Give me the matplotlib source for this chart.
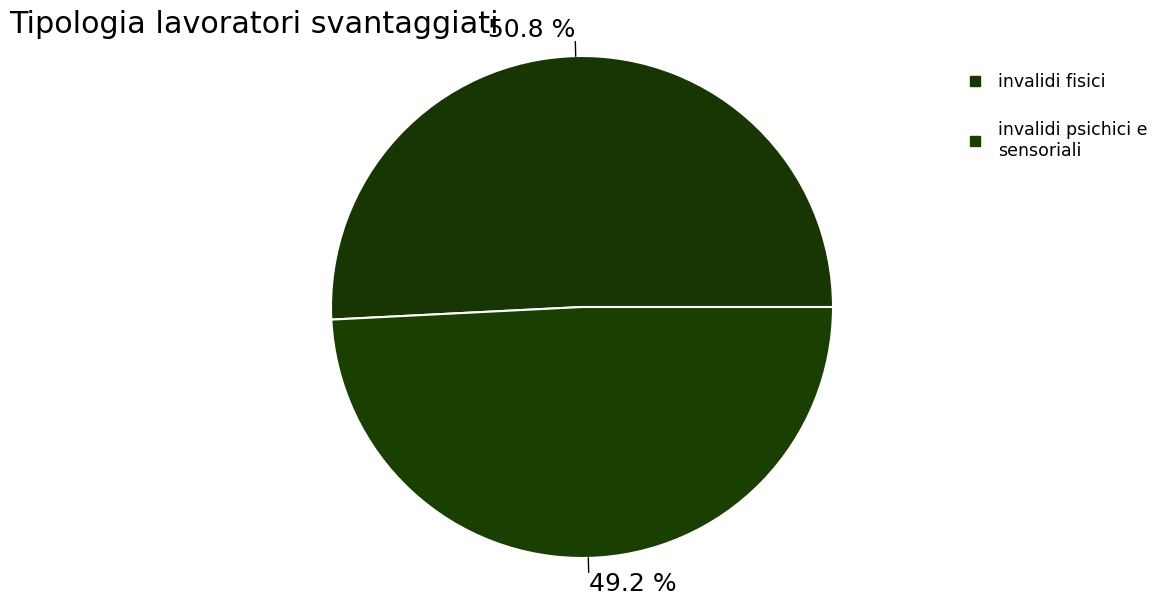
import numpy as np
import matplotlib
matplotlib.use("Agg")
import matplotlib.pyplot as plt
from matplotlib.lines import Line2D

# Data
title = "Tipologia lavoratori svantaggiati"
categories = ["invalidi fisici", "invalidi psichici e\nsensoriali"]
values = [50.8, 49.2]
colors = ["#173603", "#1a3f02"]

W, H = 1154, 597
fig = plt.figure(figsize=(W / 100, H / 100), dpi=100)

# Axes box placed in pixel coordinates around the pie
cx, cy, r = 582, 307, 251
ax = fig.add_axes([(cx - r) / W, (H - cy - r) / H, 2 * r / W, 2 * r / H])
wedges, _ = ax.pie(values, colors=colors, startangle=0, counterclock=True,
                   radius=1, wedgeprops=dict(edgecolor="white", linewidth=1.5))
ax.set_xlim(-1, 1)
ax.set_ylim(-1, 1)
ax.set_aspect("auto")
ax.axis("off")

# Percentage labels with short leader lines
total = sum(values)
for w, v in zip(wedges, values):
    mid = np.deg2rad((w.theta1 + w.theta2) / 2)
    c, s = np.cos(mid), np.sin(mid)
    ax.plot([c * 1.0, c * 1.057], [s * 1.0, s * 1.057], color="black", lw=1, clip_on=False)
    ax.text(c * 1.057, s * 1.057, f"{v / total * 100:.1f} %",
            ha="right" if c < 0 else "left",
            va="bottom" if s > 0 else "top",
            fontsize=18, color="black")

fig.text(9 / W, 1 - 10 / H, title, ha="left", va="top", fontsize=21.8, color="black")

handles = [Line2D([], [], marker="s", linestyle="none", markersize=7,
                  markerfacecolor=col, markeredgecolor=col) for col in colors]
fig.legend(handles, categories, loc="upper left",
           bbox_to_anchor=(951 / W, 1 - 57 / H), frameon=False,
           fontsize=12.5, handlelength=1.0, handletextpad=0.8,
           labelspacing=1.75)

fig.savefig("out.png", dpi=100)
